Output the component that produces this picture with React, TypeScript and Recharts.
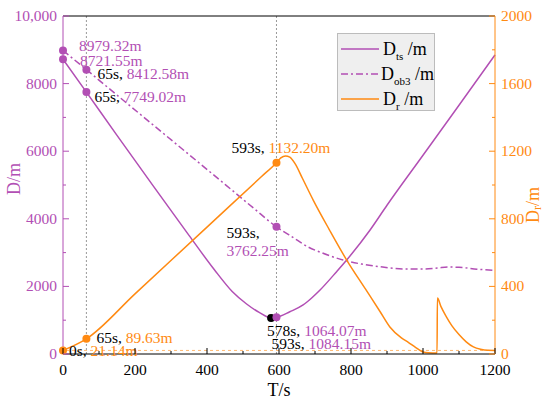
import React from 'react';
import { ComposedChart, Line, XAxis, YAxis, ReferenceLine, ReferenceDot, Legend } from 'recharts';

const PURPLE = '#b24fb4';
const ORANGE = '#ff8a12';
const FONT = "'Liberation Serif', 'Times New Roman', Times, serif";

// time axis and tick values
const xTicks = [0, 100, 200, 300, 400, 500, 600, 700, 800, 900, 1000, 1100, 1200];
const leftTicks = [0, 1000, 2000, 3000, 4000, 5000, 6000, 7000, 8000, 9000, 10000];
const rightTicks = [0, 200, 400, 600, 800, 1000, 1200, 1400, 1600, 1800, 2000];

// D_ts /m (left axis)
const dts = [
  { t: 0, v: 8721.55 }, { t: 65, v: 7749.02 }, { t: 150, v: 6470 }, { t: 250, v: 4980 },
  { t: 350, v: 3510 }, { t: 420, v: 2500 }, { t: 470, v: 1850 }, { t: 510, v: 1480 },
  { t: 545, v: 1230 }, { t: 578, v: 1064.07 }, { t: 593, v: 1084.15 }, { t: 630, v: 1250 },
  { t: 667, v: 1450 }, { t: 690, v: 1650 }, { t: 714, v: 1893 }, { t: 760, v: 2436 },
  { t: 788, v: 2781 }, { t: 853, v: 3669 }, { t: 900, v: 4400 }, { t: 1000, v: 5880 },
  { t: 1100, v: 7360 }, { t: 1200, v: 8850 },
];

// D_ob3 /m (left axis)
const dob3 = [
  { t: 0, v: 8979.32 }, { t: 65, v: 8412.58 }, { t: 150, v: 7660 }, { t: 250, v: 6780 },
  { t: 350, v: 5900 }, { t: 450, v: 5020 }, { t: 530, v: 4310 }, { t: 593, v: 3762.25 },
  { t: 640, v: 3440 }, { t: 680, v: 3170 }, { t: 720, v: 2990 }, { t: 778, v: 2781 },
  { t: 830, v: 2660 }, { t: 880, v: 2583 }, { t: 954, v: 2515 }, { t: 1000, v: 2515 },
  { t: 1040, v: 2545 }, { t: 1070, v: 2575 }, { t: 1100, v: 2565 }, { t: 1150, v: 2510 },
  { t: 1200, v: 2470 },
];

// D_r /m (right axis)
const dr = [
  { t: 0, v: 21.14 }, { t: 65, v: 89.63 }, { t: 200, v: 356 }, { t: 400, v: 751 },
  { t: 550, v: 1047 }, { t: 593, v: 1132.2 },
  { t: 605, v: 1160 }, { t: 618, v: 1172 }, { t: 630, v: 1165 }, { t: 645, v: 1125 },
  { t: 665, v: 1040 }, { t: 695, v: 911 }, { t: 740, v: 735 }, { t: 788, v: 556 },
  { t: 840, v: 385 }, { t: 881, v: 250 }, { t: 908, v: 160 }, { t: 940, v: 95 },
  { t: 960, v: 68 }, { t: 980, v: 38 }, { t: 1000, v: 12 }, { t: 1015, v: 7 },
  { t: 1039, v: 6 }, { t: 1040, v: 331 }, { t: 1050, v: 280 }, { t: 1065, v: 220 },
  { t: 1080, v: 168 }, { t: 1100, v: 115 }, { t: 1120, v: 72 }, { t: 1140, v: 42 },
  { t: 1160, v: 28 }, { t: 1180, v: 22 }, { t: 1200, v: 21 },
];

// marked points: time, value, axis, colour of dot and value text
const marks = [
  { t: 0, v: 8979.32, axis: 'left', color: PURPLE, time: '', value: '8979.32m' },
  { t: 0, v: 8721.55, axis: 'left', color: PURPLE, time: '', value: '8721.55m' },
  { t: 65, v: 8412.58, axis: 'left', color: PURPLE, time: '65s, ', value: '8412.58m' },
  { t: 65, v: 7749.02, axis: 'left', color: PURPLE, time: '65s, ', value: '7749.02m' },
  { t: 593, v: 1132.2, axis: 'right', color: ORANGE, time: '593s, ', value: '1132.20m' },
  { t: 593, v: 3762.25, axis: 'left', color: PURPLE, time: '593s,', value: '3762.25m' },
  { t: 578, v: 1064.07, axis: 'left', color: '#000', time: '578s, ', value: '1064.07m' },
  { t: 593, v: 1084.15, axis: 'left', color: PURPLE, time: '593s, ', value: '1084.15m' },
  { t: 65, v: 89.63, axis: 'right', color: ORANGE, time: '65s, ', value: '89.63m' },
  { t: 0, v: 21.14, axis: 'right', color: ORANGE, time: '0s, ', value: '21.14m' },
];

// label offsets from each dot (same order as marks)
const labelPlace = [
  { dx: 16, dy: -5 }, { dx: 17, dy: 1 }, { dx: 11, dy: 3 }, { dx: 8, dy: 4 },
  { dx: -45, dy: -16 }, { dx: -50, dy: 5, split: true }, { dx: -4, dy: 12 },
  { dx: -5, dy: 26 }, { dx: 10, dy: -2 }, { dx: 6, dy: 0 },
];

const legendItems = [
  { sub: 'ts', color: PURPLE, dash: undefined },
  { sub: 'ob3', color: PURPLE, dash: '7 3 2 3' },
  { sub: 'r', color: ORANGE, dash: undefined },
];

const txt = { fontFamily: FONT };

function BottomTick({ x, y, payload }: any) {
  const major = payload.value % 200 === 0;
  return (
    <g>
      <line x1={x} y1={y} x2={x} y2={y - (major ? 6 : 3)} stroke="#000" />
      {major && (
        <text x={x} y={y + 21} textAnchor="middle" fontSize={15.5} fill="#000" fontFamily={FONT} style={txt}>
          {payload.value}
        </text>
      )}
    </g>
  );
}

function TopTick({ x, y, payload }: any) {
  const major = payload.value % 200 === 0;
  return <line x1={x} y1={y} x2={x} y2={y + (major ? 6 : 3)} stroke="#000" />;
}

function LeftTick({ x, y, payload }: any) {
  const major = payload.value % 2000 === 0;
  const label = payload.value === 10000 ? '10,000' : String(payload.value);
  return (
    <g>
      <line x1={x} y1={y} x2={x + (major ? 6 : 3)} y2={y} stroke={PURPLE} />
      {major && (
        <text x={x - 6} y={y + 5} textAnchor="end" fontSize={15.5} fill={PURPLE} fontFamily={FONT} style={txt}>
          {label}
        </text>
      )}
    </g>
  );
}

function RightTick({ x, y, payload }: any) {
  const major = payload.value % 400 === 0;
  return (
    <g>
      <line x1={x} y1={y} x2={x - (major ? 6 : 3)} y2={y} stroke={ORANGE} />
      {major && (
        <text x={x + 6} y={y + 5} textAnchor="start" fontSize={15.5} fill={ORANGE} fontFamily={FONT} style={txt}>
          {payload.value}
        </text>
      )}
    </g>
  );
}

function MarkShape(props: any) {
  const { cx, cy, idx } = props;
  const m = marks[idx];
  const p: any = labelPlace[idx];
  const tx = cx + p.dx;
  const ty = cy + p.dy;
  return (
    <g>
      <circle cx={cx} cy={cy} r={4} fill={m.color} />
      <text x={tx} y={ty} dominantBaseline="central" fontSize={15.5} fontFamily={FONT} style={txt}>
        {p.split ? (
          <>
            <tspan fill="#000">{m.time}</tspan>
            <tspan x={tx} dy={18} fill={PURPLE}>{m.value}</tspan>
          </>
        ) : (
          <>
            <tspan fill="#000">{m.time}</tspan>
            <tspan fill={m.color === '#000' ? PURPLE : m.color}>{m.value}</tspan>
          </>
        )}
      </text>
    </g>
  );
}

function LegendBox() {
  return (
    <div
      style={{
        width: 96,
        height: 76,
        background: '#efefef',
        border: '1px solid #bcbcbc',
        fontFamily: FONT,
        fontSize: 18,
        color: '#000',
      }}
    >
      {legendItems.map((it, i) => (
        <div key={i} style={{ display: 'flex', alignItems: 'center', height: 25, marginTop: i === 0 ? 2 : 0 }}>
          <svg width={42} height={10} style={{ marginLeft: 3 }}>
            <line x1={0} y1={5} x2={38} y2={5} stroke={it.color} strokeWidth={1.5} strokeDasharray={it.dash} />
          </svg>
          <span style={{ whiteSpace: 'nowrap', lineHeight: '18px' }}>
            D<sub style={{ fontSize: 11, lineHeight: 0 }}>{it.sub}</sub> /m
          </span>
        </div>
      ))}
    </div>
  );
}

export default function App() {
  return (
    <div style={{ position: 'absolute', left: 0, top: 0, width: 550, height: 408, background: '#fff', fontFamily: FONT }}>
      <ComposedChart width={550} height={408} margin={{ top: 6, right: 10, bottom: 10, left: 10 }} style={txt}>
        <XAxis
          dataKey="t"
          type="number"
          domain={[0, 1200]}
          ticks={xTicks}
          interval={0}
          tickSize={0}
          tickMargin={0}
          tickLine={false}
          tick={<BottomTick />}
          height={44}
          stroke="#000"
          label={{ value: 'T/s', position: 'insideBottom', offset: 2, fill: '#000', fontSize: 18, style: txt }}
        />
        <XAxis
          xAxisId="top"
          orientation="top"
          dataKey="t"
          type="number"
          domain={[0, 1200]}
          ticks={xTicks}
          interval={0}
          tickSize={0}
          tickMargin={0}
          tickLine={false}
          tick={<TopTick />}
          height={10}
          stroke="#000"
        />
        <YAxis
          yAxisId="left"
          type="number"
          domain={[0, 10000]}
          ticks={leftTicks}
          interval={0}
          tickSize={0}
          tickMargin={0}
          tickLine={false}
          tick={<LeftTick />}
          width={53}
          stroke={PURPLE}
          label={{ value: 'D/m', angle: -90, position: 'insideLeft', offset: 4, dy: 10, fill: PURPLE, fontSize: 18, style: txt }}
        />
        <YAxis
          yAxisId="right"
          orientation="right"
          type="number"
          domain={[0, 2000]}
          ticks={rightTicks}
          interval={0}
          tickSize={0}
          tickMargin={0}
          tickLine={false}
          tick={<RightTick />}
          width={45}
          stroke={ORANGE}
          label={{
            content: ({ viewBox }: any) => {
              const cx = viewBox.x + viewBox.width - 7;
              const cy = 205;
              return (
                <text
                  x={cx}
                  y={cy}
                  transform={`rotate(-90 ${cx} ${cy})`}
                  textAnchor="middle"
                  dominantBaseline="central"
                  fill={ORANGE}
                  fontSize={18}
                  fontFamily={FONT}
                  style={txt}
                >
                  D<tspan fontSize={12} dy={4}>r</tspan>
                  <tspan dy={-4}>/m</tspan>
                </text>
              );
            },
          }}
        />
        <Legend
          layout="vertical"
          align="center"
          verticalAlign="middle"
          wrapperStyle={{ left: 337, top: 33, width: 98 }}
          content={() => <LegendBox />}
        />
        <ReferenceLine yAxisId="right" y={21.14} stroke="#ffb870" strokeDasharray="3 3" />
        <ReferenceLine yAxisId="left" x={65} stroke="#9a9a9a" strokeDasharray="2 2" />
        <ReferenceLine yAxisId="left" x={593} stroke="#9a9a9a" strokeDasharray="2 2" />
        <Line
          yAxisId="left"
          data={dts}
          dataKey="v"
          name="Dts"
          type="monotone"
          stroke={PURPLE}
          strokeWidth={1.5}
          dot={false}
          isAnimationActive={false}
        />
        <Line
          yAxisId="left"
          data={dob3}
          dataKey="v"
          name="Dob3"
          type="monotone"
          stroke={PURPLE}
          strokeWidth={1.5}
          strokeDasharray="7 3 2 3"
          dot={false}
          isAnimationActive={false}
        />
        <Line
          yAxisId="right"
          data={dr}
          dataKey="v"
          name="Dr"
          type="monotone"
          stroke={ORANGE}
          strokeWidth={1.5}
          dot={false}
          isAnimationActive={false}
        />
        {marks.map((m, i) => (
          <ReferenceDot
            key={i}
            yAxisId={m.axis}
            x={m.t}
            y={m.v}
            r={4}
            ifOverflow="visible"
            shape={(p: any) => <MarkShape {...p} idx={i} />}
          />
        ))}
      </ComposedChart>
    </div>
  );
}
